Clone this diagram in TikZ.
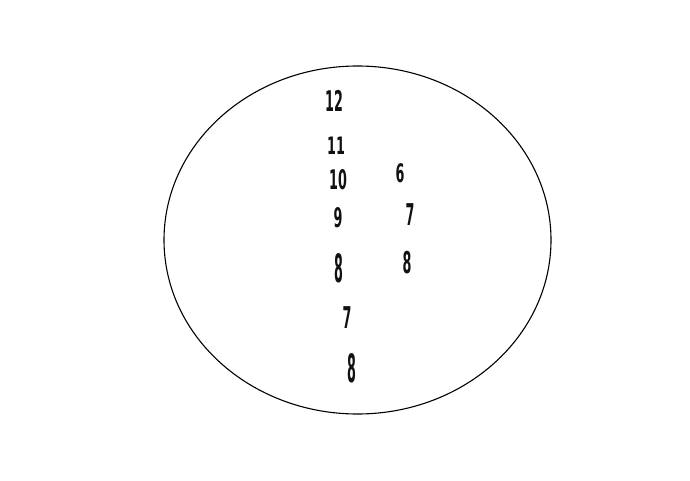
\documentclass[tikz,border=0pt]{standalone}
\usepackage{fontspec}
\setmainfont{DejaVu Sans}
\usepackage{graphicx}
\usepackage{xcolor}
\definecolor{cInk}{HTML}{111111}
\usetikzlibrary{positioning}
\newcommand{\tallnum}[2]{\scalebox{0.85}[#1]{#2}}
\tikzset{
  num/.style={text=cInk,inner sep=0pt,font=\fontsize{15}{15}\selectfont\bfseries},
  outline/.style={draw=black,line width=1.1pt},
}

\begin{document}
\begin{tikzpicture}[x=1pt,y=-1pt]
  \useasboundingbox (0,0) rectangle (690,481);
  \draw[outline] (357.5,240) ellipse [x radius=193.5, y radius=174];
  % left column
  \node[num] (a12) at (334,101) {\tallnum{1.9}{12}};
  \node[num] (a11) at (336,146) {\tallnum{1.6}{11}};
  \node[num] (a10) at (338,180) {\tallnum{1.8}{10}};
  \node[num] (a9)  at (338,218) {\tallnum{1.8}{9}};
  \node[num] (a8)  at (339,268) {\tallnum{2.6}{8}};
  \node[num] (a7)  at (347,318) {\tallnum{2.0}{7}};
  \node[num] (a8b) at (352,368) {\tallnum{2.6}{8}};
  % right column
  \node[num] (b6)  at (400,173) {\tallnum{1.7}{6}};
  \node[num] (b7)  at (410,215) {\tallnum{2.0}{7}};
  \node[num] (b8)  at (407,263) {\tallnum{2.0}{8}};
\end{tikzpicture}
\end{document}
